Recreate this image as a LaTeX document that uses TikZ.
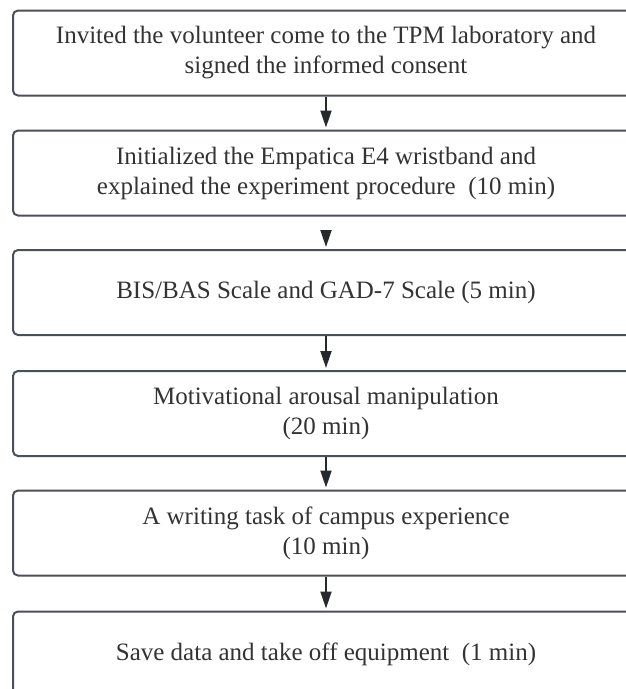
\documentclass[tikz,border=0pt]{standalone}
\usepackage{fontspec}
\setmainfont{Liberation Serif}
\usetikzlibrary{arrows.meta}
\definecolor{boxline}{HTML}{4A5058}
\definecolor{arrowcol}{HTML}{25282D}
\definecolor{txt}{HTML}{333333}
\begin{document}
\begin{tikzpicture}[x=1pt,y=-1pt,
  stepbox/.style={draw=boxline, line width=2pt, rounded corners=5pt,
    minimum width=626pt, minimum height=85pt, inner sep=0pt,
    align=center, text=txt, font=\fontsize{25}{30}\selectfont},
  flow/.style={draw=arrowcol, line width=1.8pt,
    -{Triangle[width=11pt,length=17pt]}, shorten >=2pt}
]
\useasboundingbox (0,0) rectangle (626,689);
\clip (0,0) rectangle (626,689);
\node[stepbox] (b1) at (326,53) {Invited the volunteer come to the TPM laboratory and\\signed the informed consent};
\node[stepbox] (b2) at (326,173) {Initialized the Empatica E4 wristband and\\explained the experiment procedure\ \ (10 min)};
\node[stepbox] (b3) at (326,292.5) {BIS/BAS Scale and GAD-7 Scale (5 min)};
\node[stepbox] (b4) at (326,413.5) {Motivational arousal manipulation\\(20 min)};
\node[stepbox] (b5) at (326,533) {A writing task of campus experience\\(10 min)};
\node[stepbox] (b6) at (326,654) {Save data and take off equipment\ \ (1 min)};
\draw[flow] (b1) -- (b2);
\draw[flow, shorten <=13pt] (b2) -- (b3);
\draw[flow] (b3) -- (b4);
\draw[flow] (b4) -- (b5);
\draw[flow] (b5) -- (b6);
\end{tikzpicture}
\end{document}
